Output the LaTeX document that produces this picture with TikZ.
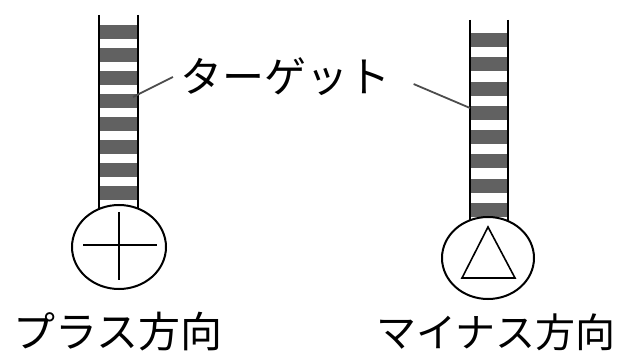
\documentclass[tikz,border=0pt]{standalone}
\usepackage{fontspec}
\newfontfamily\jpfont{Noto Sans CJK JP}
\usetikzlibrary{shapes.geometric}

\begin{document}
\begin{tikzpicture}[x=0.5pt,y=-0.5pt,font=\jpfont\fontsize{21}{25}\selectfont]
\useasboundingbox (0,0) rectangle (620,352);

% plus side target
\begin{scope}[line width=1.2pt]
\foreach \y in {0,...,7}
\fill[black!62] (99,25+23*\y) rectangle (138,39+23*\y);
\draw (99,15) -- (99,215) (138,15) -- (138,215);
\end{scope}
\node[ellipse,draw,line width=1pt,fill=white,minimum width=47pt,minimum height=42pt,inner sep=0pt] (plus) at (119,247) {};
\draw[line width=0.8pt] (119,212) -- (119,280) (83,245) -- (157,245);

% minus side target
\begin{scope}[line width=1.2pt]
\foreach \y in {0,...,7}
\fill[black!62] (470,33+24.3*\y) rectangle (508,47+24.3*\y);
\draw (470,20) -- (470,225) (508,20) -- (508,225);
\end{scope}
\node[ellipse,draw,line width=1pt,fill=white,minimum width=46pt,minimum height=41pt,inner sep=0pt] (minus) at (488,258) {};
\draw[line width=0.8pt] (488,227) -- (515,278) -- (462,278) -- cycle;

% labels
\node (target) at (285,77) {ターゲット};
\node (pluslabel) at (118,332) {プラス方向};
\node[font=\jpfont\fontsize{20}{24}\selectfont] (minuslabel) at (496,332) {マイナス方向};

\coordinate (ltip) at (133,97);
\coordinate (rtip) at (470,108);
\draw[black!70,line width=0.9pt] (target.west) -- (ltip);
\draw[black!70,line width=0.9pt,shorten <=9pt] (target.east) -- (rtip);

\end{tikzpicture}
\end{document}
